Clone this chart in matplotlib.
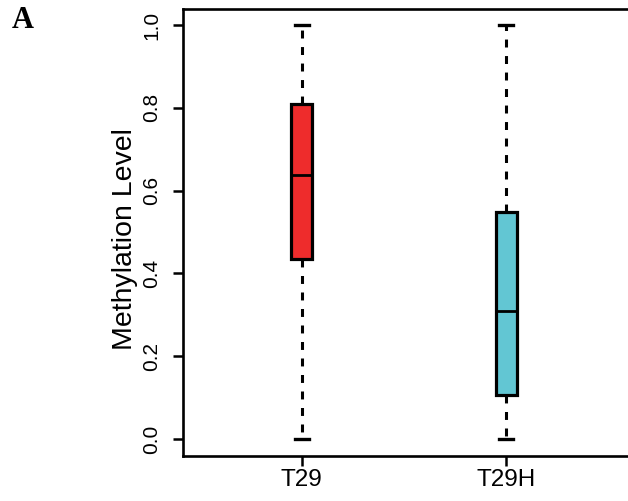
import matplotlib
matplotlib.use('Agg')
import matplotlib.pyplot as plt

# box statistics
groups = ['T29', 'T29H']
lower = [0.0, 0.0]
q1 = [0.435, 0.106]
median = [0.638, 0.309]
q3 = [0.809, 0.548]
upper = [1.0, 1.0]
colors = ['#EE2C2C', '#62C6D3']

plt.rcParams['font.family'] = ['Liberation Sans', 'DejaVu Sans']

fig = plt.figure(figsize=(6.28, 5.01), dpi=100)
ax = fig.add_axes([183 / 628, 1 - 455.5 / 501, (640 - 183) / 628, (455.5 - 8.5) / 501])

stats = []
for i, g in enumerate(groups):
    stats.append({'label': g, 'whislo': lower[i], 'q1': q1[i], 'med': median[i],
                  'q3': q3[i], 'whishi': upper[i], 'fliers': []})

pos = list(range(1, len(groups) + 1))
bp = ax.bxp(stats, positions=pos, widths=0.105, patch_artist=True,
            showfliers=False,
            boxprops=dict(linewidth=2.3, edgecolor='black'),
            medianprops=dict(color='black', linewidth=2.0),
            whiskerprops=dict(color='black', linewidth=2.2, linestyle=(0, (2.6, 2.8))),
            capprops=dict(color='black', linewidth=2.4),
            capwidths=0.07)
for patch, c in zip(bp['boxes'], colors):
    patch.set_facecolor(c)

ax.set_xlim(0.42, 2.58 + (640 - 625) / 205)
ax.set_ylim(-0.04, 1.04)
ax.set_yticks([0.0, 0.2, 0.4, 0.6, 0.8, 1.0])
ax.set_yticklabels(['0.0', '0.2', '0.4', '0.6', '0.8', '1.0'], rotation=90, va='center')
ax.set_xticks(pos)
ax.set_xticklabels(groups)
ax.tick_params(axis='both', length=7.5, width=1.8)
ax.tick_params(axis='y', labelsize=15, pad=8)
ax.tick_params(axis='x', labelsize=17.5, pad=2)
for s in ax.spines.values():
    s.set_linewidth(1.9)
ax.spines['right'].set_visible(False)

ax.set_ylabel('Methylation Level', fontsize=20.5, labelpad=3, y=0.484)

fig.text(12 / 628, 1 - 28 / 501, 'A', family='Liberation Serif', weight='bold',
         fontsize=22, va='baseline')

fig.savefig('out.png', dpi=100)
